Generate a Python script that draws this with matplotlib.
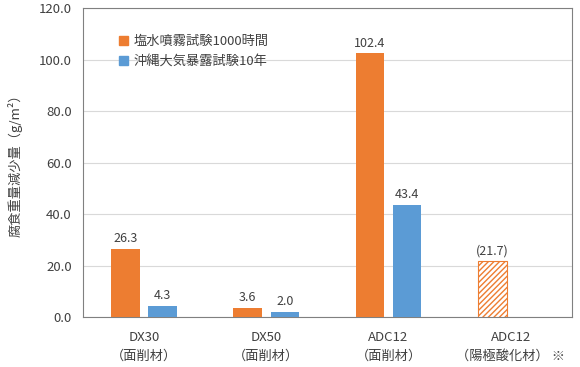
import numpy as np
import matplotlib
matplotlib.use('Agg')
import matplotlib.pyplot as plt
from matplotlib.patches import Patch

plt.rcParams['font.family'] = ['Noto Sans CJK JP', 'DejaVu Sans']
plt.rcParams['hatch.linewidth'] = 1.0

categories = ['DX30\n（面削材）', 'DX50\n（面削材）', 'ADC12\n（面削材）', 'ADC12\n（陽極酸化材） ※']
salt_spray = [26.3, 3.6, 102.4, 21.7]
okinawa = [4.3, 2.0, 43.4, None]
salt_labels = ['26.3', '3.6', '102.4', '(21.7)']
okinawa_labels = ['4.3', '2.0', '43.4', '']
series_names = ['塩水噴霧試験1000時間', '沖縄大気暴露試験10年']
yticks = [0, 20, 40, 60, 80, 100, 120]

orange = '#ED7D31'
blue = '#5B9BD5'
text_c = '#404040'

fig = plt.figure(figsize=(5.8, 3.67), dpi=100)
ax = fig.add_axes([0.143, 0.136, 0.843, 0.842])

x = np.arange(len(categories))
w = 0.235
off = 0.152

for i in range(len(categories)):
    if i == 3:
        ax.bar(x[i] - off, salt_spray[i], w, facecolor='white', edgecolor=orange,
               hatch='//////', linewidth=0.8, zorder=3)
    else:
        ax.bar(x[i] - off, salt_spray[i], w, color=orange, zorder=3)
    ax.text(x[i] - off, salt_spray[i] + 1.5, salt_labels[i], ha='center', va='bottom',
            fontsize=9, color=text_c)
    if okinawa[i] is not None:
        ax.bar(x[i] + off, okinawa[i], w, color=blue, zorder=3)
        ax.text(x[i] + off, okinawa[i] + 1.5, okinawa_labels[i], ha='center', va='bottom',
                fontsize=9, color=text_c)

ax.set_xlim(-0.5, 3.5)
ax.set_ylim(0, 120)
ax.set_yticks(yticks)
ax.set_yticklabels([f'{v:.1f}' for v in yticks], fontsize=9.5, color=text_c)
ax.set_xticks(x)
ax.set_xticklabels(categories, fontsize=9.5, color=text_c, linespacing=1.6)
ax.tick_params(axis='both', length=0, pad=8)
ax.tick_params(axis='x', pad=10)
ax.grid(axis='y', color='#D9D9D9', linewidth=0.8, zorder=0)
for s in ax.spines.values():
    s.set_color('#808080')
    s.set_linewidth(0.8)

ax.set_ylabel('腐食重量減少量（g/m²）', fontsize=9.5, color=text_c, labelpad=12)

handles = [Patch(color=orange), Patch(color=blue)]
ax.legend(handles, series_names, loc='upper left', bbox_to_anchor=(0.05, 0.95),
          frameon=False, fontsize=9.5, handlelength=0.7, handleheight=0.7,
          handletextpad=0.4, labelspacing=0.5, labelcolor=text_c)

fig.savefig('out.png', dpi=100)
